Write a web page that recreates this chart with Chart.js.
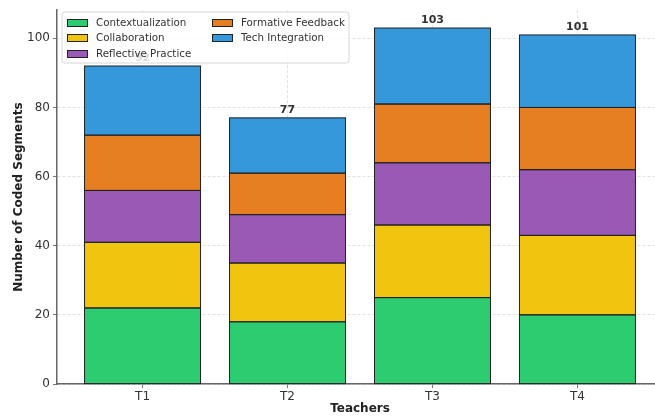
<!DOCTYPE html>
<html>
<head>
<meta charset="utf-8">
<script src="https://cdn.jsdelivr.net/npm/chart.js@4.4.1/dist/chart.umd.min.js"></script>
<style>
  html, body { margin: 0; padding: 0; background: #fff; overflow: hidden; }
  #wrap { width: 655px; height: 416px; overflow: hidden; }
  canvas { display: block; }
</style>
</head>
<body>
<div id="wrap"><canvas id="c" width="663" height="416"></canvas></div>
<script>
// Coded segments per teacher, split by category
const teachers = ['T1', 'T2', 'T3', 'T4'];
const contextualization = [22, 18, 25, 20];
const collaboration = [19, 17, 21, 23];
const reflectivePractice = [15, 14, 18, 19];
const formativeFeedback = [16, 12, 17, 18];
const techIntegration = [20, 16, 22, 21];
const yTicks = [0, 20, 40, 60, 80, 100];

const seriesNames = ['Contextualization', 'Collaboration', 'Reflective Practice', 'Formative Feedback', 'Tech Integration'];
const seriesValues = [contextualization, collaboration, reflectivePractice, formativeFeedback, techIntegration];
const seriesColors = ['#2ecc71', '#f1c40f', '#9b59b6', '#e67e22', '#3498db'];

const totals = teachers.map((_, i) => seriesValues.reduce((s, arr) => s + arr[i], 0));

const datasets = seriesNames.map((name, k) => ({
  label: name,
  data: seriesValues[k].map((v, i) => ({ x: i, y: v })),
  backgroundColor: seriesColors[k],
  borderWidth: 0,
  inflateAmount: 0,
  barPercentage: 0.8,
  categoryPercentage: 1.0,
  stack: 'all'
}));

const FONT = '"DejaVu Sans", "Liberation Sans", sans-serif';

// dark outline around every bar segment, using each element's own geometry
const outlines = {
  id: 'outlines',
  afterDatasetsDraw(chart) {
    const ctx = chart.ctx;
    ctx.save();
    ctx.strokeStyle = '#222';
    ctx.lineWidth = 1;
    chart.data.datasets.forEach((_, di) => {
      chart.getDatasetMeta(di).data.forEach(el => {
        const p = el.getProps(['x', 'y', 'base', 'width'], true);
        const left = p.x - p.width / 2, right = p.x + p.width / 2;
        const top = Math.min(p.y, p.base), bottom = Math.max(p.y, p.base);
        ctx.strokeRect(left, top, right - left, bottom - top);
      });
    });
    ctx.restore();
  }
};

const overlay = {
  id: 'overlay',
  afterDraw(chart) {
    const ctx = chart.ctx;
    const xs = chart.scales.x, ys = chart.scales.y;
    const area = chart.chartArea;
    ctx.save();

    // totals above each stack
    ctx.font = 'bold 11px ' + FONT;
    ctx.fillStyle = '#333';
    ctx.textAlign = 'center';
    ctx.textBaseline = 'alphabetic';
    totals.forEach((t, i) => {
      ctx.fillText(String(t), xs.getPixelForValue(i), ys.getPixelForValue(t) - 5);
    });

    // axis titles
    ctx.font = 'bold 12px ' + FONT;
    ctx.fillStyle = '#222';
    ctx.textAlign = 'center';
    ctx.textBaseline = 'middle';
    ctx.fillText('Teachers', (area.left + area.right) / 2, 409);
    ctx.save();
    ctx.translate(19, (area.top + area.bottom) / 2);
    ctx.rotate(-Math.PI / 2);
    ctx.fillText('Number of Coded Segments', 0, 0);
    ctx.restore();

    // legend box (two columns, filled column by column)
    const bx = 62, by = 12, bw = 287, bh = 51, r = 3;
    ctx.beginPath();
    ctx.moveTo(bx + r, by);
    ctx.arcTo(bx + bw, by, bx + bw, by + bh, r);
    ctx.arcTo(bx + bw, by + bh, bx, by + bh, r);
    ctx.arcTo(bx, by + bh, bx, by, r);
    ctx.arcTo(bx, by, bx + bw, by, r);
    ctx.closePath();
    ctx.fillStyle = 'rgba(255,255,255,0.82)';
    ctx.fill();
    ctx.strokeStyle = '#d6d6d6';
    ctx.lineWidth = 1;
    ctx.stroke();

    const colX = [67, 212];
    const rowY = [23, 38, 54];
    ctx.font = '10.3px ' + FONT;
    ctx.textAlign = 'left';
    ctx.textBaseline = 'middle';
    seriesNames.forEach((name, k) => {
      const col = Math.floor(k / 3), row = k % 3;
      const px = colX[col], py = rowY[row];
      ctx.fillStyle = seriesColors[k];
      ctx.fillRect(px, py - 3.5, 20, 7);
      ctx.strokeStyle = '#222';
      ctx.lineWidth = 1;
      ctx.strokeRect(px + 0.5, py - 3.5, 20, 7);
      ctx.fillStyle = '#333';
      ctx.fillText(name, px + 29, py + 0.5);
    });
    ctx.restore();
  }
};

new Chart(document.getElementById('c'), {
  type: 'bar',
  data: { datasets },
  options: {
    responsive: false,
    animation: false,
    layout: { padding: { top: 8, right: 0, left: 0, bottom: 0 } },
    plugins: {
      legend: { display: false },
      tooltip: { enabled: false }
    },
    scales: {
      x: {
        type: 'linear',
        stacked: true,
        offset: false,
        min: -0.59,
        max: 3.59,
        z: 1,
        afterBuildTicks(scale) { scale.ticks = teachers.map((_, i) => ({ value: i })); },
        afterFit(scale) { scale.height = 32; },
        ticks: {
          callback: (v) => teachers[v],
          font: { family: FONT, size: 12 },
          color: '#333',
          padding: 2,
          maxRotation: 0
        },
        grid: {
          offset: false,
          color: 'rgba(170,170,170,0.45)',
          lineWidth: 0.8,
          tickColor: '#555',
          tickLength: 4,
          drawTicks: true
        },
        border: { display: true, color: '#666', width: 1.5, dash: [3, 2] }
      },
      y: {
        stacked: true,
        min: 0,
        max: 108.15,
        z: 1,
        afterBuildTicks(scale) { scale.ticks = yTicks.map(v => ({ value: v })); },
        afterFit(scale) { scale.width = 57; },
        ticks: {
          font: { family: FONT, size: 12 },
          color: '#333',
          padding: 3
        },
        grid: {
          color: 'rgba(170,170,170,0.45)',
          lineWidth: 0.8,
          tickColor: '#555',
          tickLength: 4,
          drawTicks: true
        },
        border: { display: true, color: '#666', width: 1.5, dash: [3, 2] }
      }
    }
  },
  plugins: [outlines, overlay]
});
</script>
</body>
</html>
